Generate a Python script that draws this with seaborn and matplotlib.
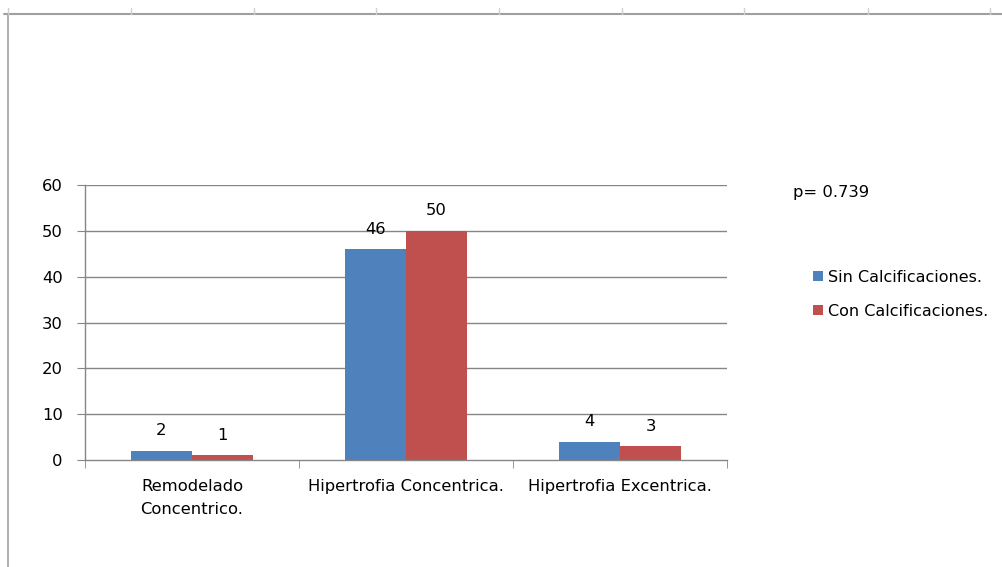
import pandas as pd
import seaborn as sns
import matplotlib.pyplot as plt
from matplotlib.lines import Line2D
from matplotlib.patches import Patch

# Data
categories = ["Remodelado\nConcentrico.", "Hipertrofia Concentrica.", "Hipertrofia Excentrica."]
series_names = ["Sin Calcificaciones.", "Con Calcificaciones."]
sin_calc = [2, 46, 4]
con_calc = [1, 50, 3]
colors = ["#4F81BD", "#C0504D"]
y_ticks = [0, 10, 20, 30, 40, 50, 60]
p_text = "p= 0.739"

df = pd.DataFrame({
    "categoria": categories * 2,
    "grupo": [series_names[0]] * 3 + [series_names[1]] * 3,
    "valor": sin_calc + con_calc,
})

sns.set_style("white")
plt.rcParams["font.family"] = ["DejaVu Sans"]
plt.rcParams["text.color"] = "black"

fs = 11.8
fig = plt.figure(figsize=(10.02, 5.67), dpi=100)
ax = fig.add_axes([0.0848, 0.1887, 0.6407, 0.485])

sns.barplot(data=df, x="categoria", y="valor", hue="grupo", palette=colors,
            width=0.57, gap=0, saturation=1, ax=ax, legend=False,
            edgecolor="none", linewidth=0)

ax.set_ylim(0, 60)
ax.set_xlim(-0.5, 2.5)
ax.set_yticks(y_ticks)
ax.set_xlabel("")
ax.set_ylabel("")

grid_c = "#868686"
for y in y_ticks[1:]:
    ax.axhline(y, color=grid_c, lw=1, zorder=0)

for side in ["top", "right"]:
    ax.spines[side].set_visible(False)
for side in ["left", "bottom"]:
    ax.spines[side].set_color(grid_c)
    ax.spines[side].set_linewidth(1)

ax.set_xticks([-0.5, 0.5, 1.5, 2.5], minor=True)
ax.tick_params(axis="x", which="major", length=0, pad=14, labelsize=fs, labelcolor="black")
ax.tick_params(axis="x", which="minor", length=6, color=grid_c, direction="out", bottom=True)
ax.tick_params(axis="y", length=6, color=grid_c, direction="out", labelsize=fs,
               labelcolor="black", pad=10, left=True)
for lbl in ax.get_xticklabels():
    lbl.set_linespacing(1.65)

for cont in ax.containers:
    ax.bar_label(cont, fmt="%d", padding=9, fontsize=fs, color="black")

# p-value and legend at the right
fig.text(0.791, 0.661, p_text, fontsize=fs, va="center", color="black")
handles = [Patch(facecolor=c, edgecolor="none") for c in colors]
fig.legend(handles, series_names, loc="center left", bbox_to_anchor=(0.797, 0.481),
           frameon=False, fontsize=11.5, handlelength=0.6, handleheight=0.6,
           handletextpad=0.35, labelspacing=1.2, labelcolor="black")

# spreadsheet frame lines behind the chart
frame_c = "#A0A0A0"
fig.add_artist(Line2D([0.004, 1.0], [1 - 14 / 567, 1 - 14 / 567], color=frame_c, lw=1.5,
                      transform=fig.transFigure))
fig.add_artist(Line2D([0.008, 0.008], [0, 1 - 14 / 567], color=frame_c, lw=1.2,
                      transform=fig.transFigure))
for xp in [8, 131, 254, 376, 499, 622, 744, 868, 990]:
    fig.add_artist(Line2D([xp / 1002, xp / 1002], [1 - 14 / 567, 1 - 8 / 567], color="#D0D0D0",
                          lw=1, transform=fig.transFigure))

fig.savefig("out.png", dpi=100)
